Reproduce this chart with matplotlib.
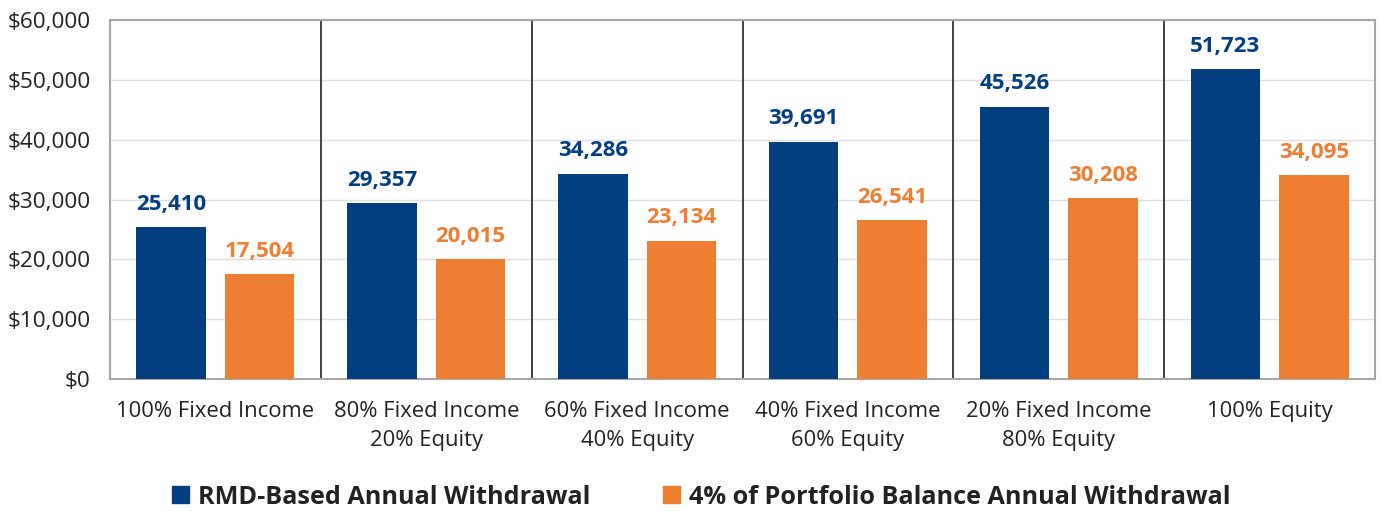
import matplotlib
matplotlib.use("Agg")
import matplotlib.pyplot as plt
import numpy as np
from matplotlib.patches import Patch

categories = ["100% Fixed Income", "80% Fixed Income\n20% Equity", "60% Fixed Income\n40% Equity",
              "40% Fixed Income\n60% Equity", "20% Fixed Income\n80% Equity", "100% Equity"]
rmd = [25410, 29357, 34286, 39691, 45526, 51723]
four_pct = [17504, 20015, 23134, 26541, 30208, 34095]
series_names = ["RMD-Based Annual Withdrawal", "4% of Portfolio Balance Annual Withdrawal"]
yticks = [0, 10000, 20000, 30000, 40000, 50000, 60000]

BLUE = "#033F80"
ORANGE = "#EE7E32"
plt.rcParams['font.family'] = ['Open Sans', 'DejaVu Sans']

fig = plt.figure(figsize=(13.82, 5.11), dpi=100)
ax = fig.add_axes([0.0796, 0.258, 0.9154, 0.703])

x = np.arange(len(categories))
w = 0.33
off = 0.21
b1 = ax.bar(x - off, rmd, w, color=BLUE, zorder=3)
b2 = ax.bar(x + off, four_pct, w, color=ORANGE, zorder=3)

for rect, v in zip(b1, rmd):
    ax.annotate(f"{v:,}", (rect.get_x() + rect.get_width() / 2, v), xytext=(0, 9),
                textcoords="offset points", ha="center", va="bottom",
                color=BLUE, fontsize=16, fontweight="bold")
for rect, v in zip(b2, four_pct):
    ax.annotate(f"{v:,}", (rect.get_x() + rect.get_width() / 2, v), xytext=(0, 9),
                textcoords="offset points", ha="center", va="bottom",
                color=ORANGE, fontsize=16, fontweight="bold")

ax.set_xlim(-0.5, len(categories) - 0.5)
ax.set_ylim(0, 60000)
ax.set_yticks(yticks)
ax.set_yticklabels([f"${t:,}" for t in yticks], fontsize=16.2, color="#222222")
ax.set_xticks(x)
ax.set_xticklabels(categories, fontsize=15.8, color="#222222", linespacing=1.45)
ax.tick_params(axis="both", length=0)
ax.tick_params(axis="x", pad=16)
ax.tick_params(axis="y", pad=14)
ax.grid(axis="y", color="#E0E0E0", linewidth=1.0, zorder=0)
for i in range(1, len(categories)):
    ax.axvline(i - 0.5, color="#333333", linewidth=1.3, zorder=2)
for s in ax.spines.values():
    s.set_color("#A6A6A6")
    s.set_linewidth(1.5)

handles = [Patch(color=BLUE), Patch(color=ORANGE)]
leg = fig.legend(handles, series_names, loc="center", bbox_to_anchor=(0.5075, 0.027), ncol=2,
                 frameon=False, prop={"size": 18.2, "weight": "bold"}, handlelength=0.65,
                 handleheight=0.65, handletextpad=0.35, columnspacing=2.9)
for t in leg.get_texts():
    t.set_color("#222222")

fig.savefig("out.png", dpi=100)
